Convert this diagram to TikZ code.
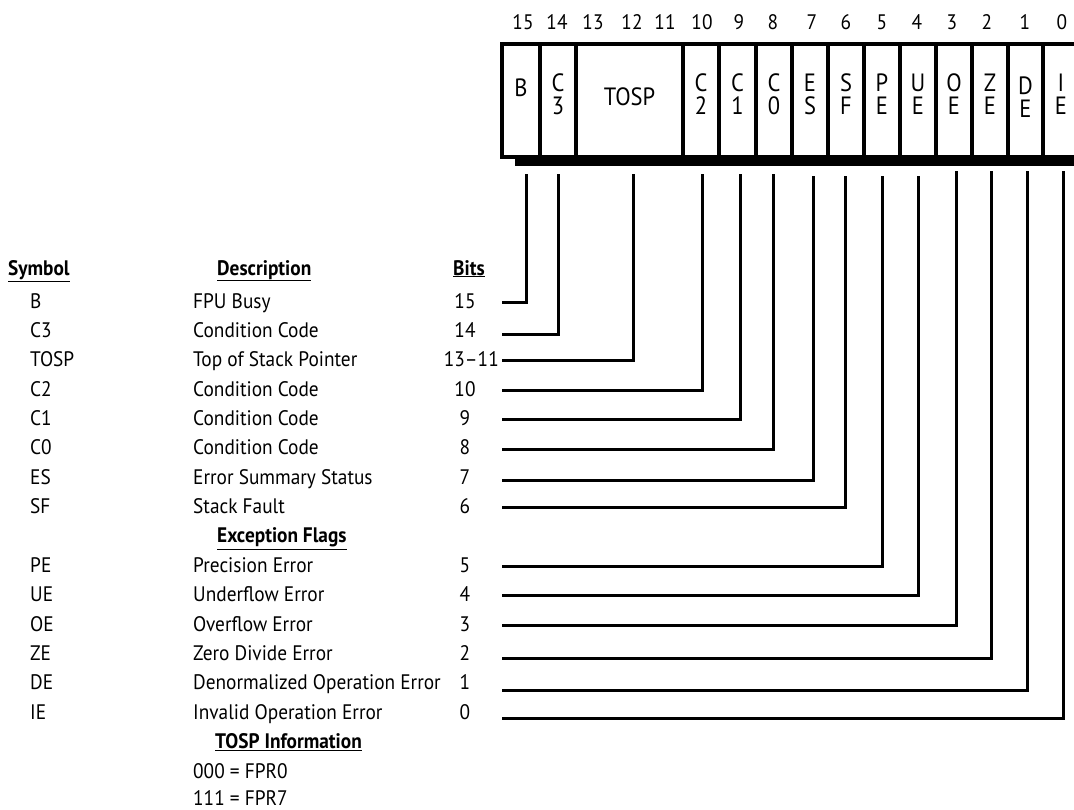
\documentclass[tikz,border=0pt]{standalone}
\usepackage{fontspec}
\setmainfont{PT Sans}[FakeStretch=0.92]
\newfontfamily\cellfont{PT Sans}[FakeStretch=0.9]
\begin{document}
\begin{tikzpicture}[x=1pt,y=-1pt,
  txt/.style={font=\fontsize{21}{23}\selectfont, inner sep=0pt, anchor=base west},
  hdr/.style={txt, font=\fontsize{21}{23}\selectfont\bfseries},
  bitnum/.style={font=\fontsize{21}{23}\selectfont, inner sep=0pt, anchor=base},
  topnum/.style={font=\fontsize{21}{23}\selectfont, inner sep=0pt},
  cell/.style={draw, line width=3.3pt, minimum height=113pt, inner sep=0pt, outer sep=0pt},
  clab/.style={font=\cellfont\fontsize{25}{23}\selectfont, inner sep=0pt, align=center},
  conn/.style={line width=3pt}]
\clip (0,0) rectangle (1074,809);
\useasboundingbox (0,0) rectangle (1074,809);
% shadow bar
\fill[black] (515,155) rectangle (1080,166);
% register cells
\foreach \nm/\xa/\xb in {c15/502/540, c14/540/576, ctosp/576/683, c10/683/719, c9/719/756, c8/756/792, c7/792/828, c6/828/864, c5/864/900, c4/900/936, c3/936/972, c2/972/1008, c1/1008/1043, c0/1043/1079}
  \node[cell, minimum width={\xb-\xa}] (\nm) at ({(\xa+\xb)/2},100.5) {};
% cell labels
\node[clab, yshift=13pt] (l15) at (c15.center) {B};
\node[clab, yshift=6.5pt] (l14) at (c14.center) {C\\3};
\node[clab, yshift=4pt] (ltosp) at (ctosp.center) {TOSP};
\node[clab, yshift=6.5pt] (l10) at (c10.center) {C\\2};
\node[clab, yshift=6.5pt] (l9) at (c9.center) {C\\1};
\node[clab, yshift=6.5pt] (l8) at (c8.center) {C\\0};
\node[clab, yshift=6.5pt] (l7) at (c7.center) {E\\S};
\node[clab, yshift=6.5pt] (l6) at (c6.center) {S\\F};
\node[clab, yshift=6.5pt] (l5) at (c5.center) {P\\E};
\node[clab, yshift=6.5pt] (l4) at (c4.center) {U\\E};
\node[clab, yshift=6.5pt] (l3) at (c3.center) {O\\E};
\node[clab, yshift=6.5pt] (l2) at (c2.center) {Z\\E};
\node[clab, yshift=3pt] (l1) at (c1.center) {D\\E};
\node[clab, yshift=6.5pt] (l0) at (c0.center) {I\\E};
% top bit numbers
\foreach \n/\x in {15/523, 14/557, 13/593, 12/632, 11/665, 10/702, 9/739, 8/773, 7/812, 6/846, 5/882, 4/917, 3/952, 2/987, 1/1025, 0/1062}
  \node[topnum] (t\n) at (\x,22) {\n};
% headers
\node[hdr] (hsym) at (8,275) {\underline{Symbol}};
\node[hdr] (hdesc) at (217,275) {\underline{Description}};
\node[hdr] (hbits) at (453,275) {\underline{Bits}};
% table rows: name / symbol / description / bits / baseline
\foreach \id/\sym/\desc/\bits/\yb in {
  rB/B/FPU Busy/15/308,
  rCiii/C3/Condition Code/14/337.4,
  rC2/C2/Condition Code/10/396.1,
  rC1/C1/Condition Code/9/425.4,
  rC0/C0/Condition Code/8/454.8,
  rES/ES/Error Summary Status/7/484.2,
  rSF/SF/Stack Fault/6/513.5,
  rPE/PE/Precision Error/5/572.2,
  rUE/UE/Underflow Error/4/601.6,
  rOE/OE/Overflow Error/3/631.0,
  rZE/ZE/Zero Divide Error/2/660.3,
  rDE/DE/Denormalized Operation Error/1/689.7,
  rIE/IE/Invalid Operation Error/0/719.0}{
  \node[txt] (\id s) at (30,\yb) {\sym};
  \node[txt] (\id d) at (193,\yb) {\desc};
  \node[bitnum] (\id b) at (465,\yb) {\bits};
}
\node[txt] (rTs) at (30,366.7) {TOSP};
\node[txt] (rTd) at (193,366.7) {Top of Stack Pointer};
\node[txt, anchor=base east] (rTb) at (499,366.7) {13–11};
\node[hdr] (hexc) at (217,542.9) {\underline{Exception Flags}};
\node[hdr] (htosp) at (215,748.4) {\underline{TOSP Information}};
\node[txt] (f0) at (193,778.5) {000 = FPR0};
\node[txt] (f7) at (193,805) {111 = FPR7};
% connectors: top coordinate and row end coordinate
\foreach \k/\x/\ya/\yr in {B/526/174/302, C3/558/174/334, T/633/174/360, C2/702/174/390, C1/740/174/419, C0/773/174/449, ES/813/176/480, SF/845/176/507, PE/882/176/566, UE/918/176/595, OE/956/171/625, ZE/991/171/658, DE/1027/171/690, IE/1063/171/718}{
  \coordinate (top\k) at (\x,\ya);
  \coordinate (end\k) at (502,\yr);
  \draw[conn] (top\k) |- (end\k);
}
\end{tikzpicture}
\end{document}
